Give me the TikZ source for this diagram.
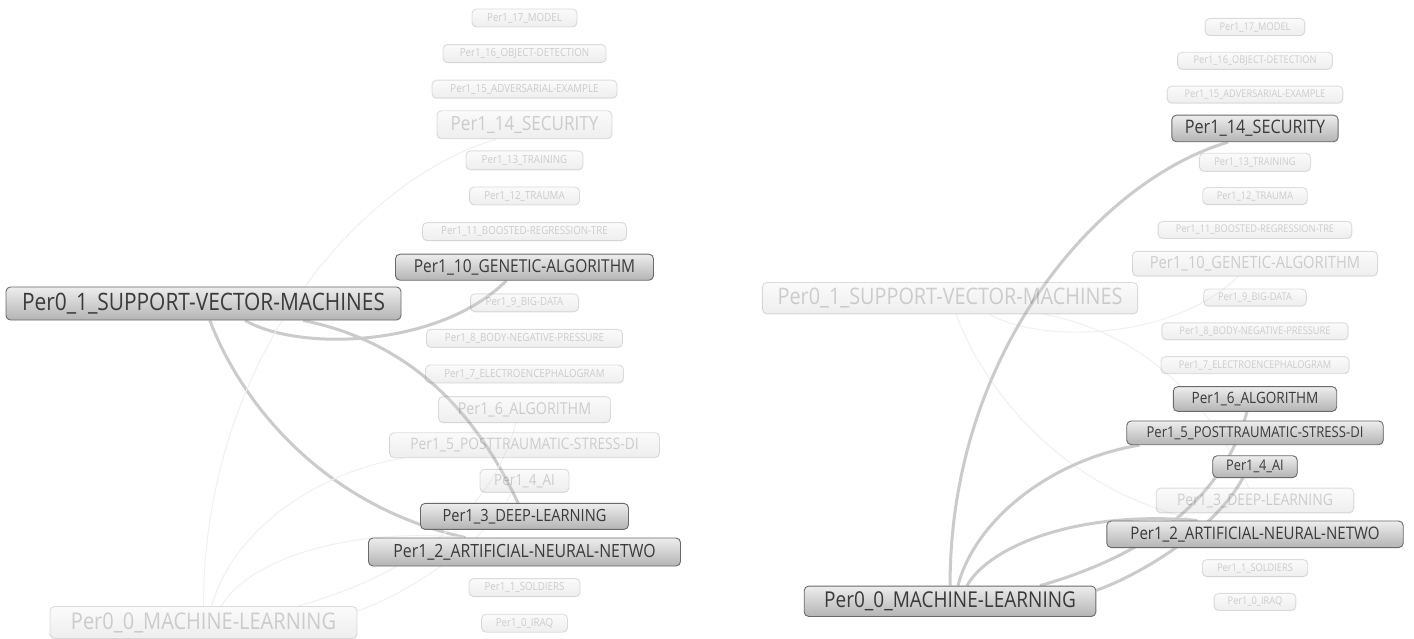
\documentclass[tikz,border=0pt]{standalone}
\usepackage{fontspec}
\newfontfamily\lblfont{Open Sans}[FakeStretch=0.87]
\usetikzlibrary{calc}
\pgfdeclarelayer{background}
\pgfdeclarelayer{canvas}
\pgfsetlayers{canvas,background,main}
\definecolor{boxline}{HTML}{6A6A6A}
\definecolor{boxtop}{HTML}{EDEDED}
\definecolor{boxbot}{HTML}{B4B4B4}
\definecolor{boxtext}{HTML}{3A3A3A}
\definecolor{edgestrong}{HTML}{CBCBCB}
\definecolor{edgeweak}{HTML}{F0F0F0}
\tikzset{
  box/.style={rounded corners=4.5pt, draw=boxline, top color=boxtop, bottom color=boxbot,
    text=boxtext, inner sep=0pt, line width=0.9pt},
  hilite/.style={box},
  faded/.style={box, opacity=0.22},
  strongedge/.style={draw=edgestrong, line width=3pt},
  weakedge/.style={draw=edgeweak, line width=1pt},
  fs/.style={font=\lblfont\fontsize{#1}{#1}\selectfont},
  small/.style={fs=11.2, minimum height=18pt},
}
\newcommand\graphnodes{%
  \node[n17, small, minimum width=105pt] (m17) at (524.5,18.0) {Per1\_17\_MODEL};
  \node[n16, small, minimum width=163pt] (m16) at (524.5,53.6) {Per1\_16\_OBJECT-DETECTION};
  \node[n15, small, minimum width=185pt] (m15) at (524.5,89.2) {Per1\_15\_ADVERSARIAL-EXAMPLE};
  \node[n14, fs=19.6, minimum width=175pt, minimum height=28pt] (m14) at (524.5,124.8) {Per1\_14\_SECURITY};
  \node[n13, small, minimum width=117pt, minimum height=19pt] (m13) at (524.5,160.4) {Per1\_13\_TRAINING};
  \node[n12, small, minimum width=110pt] (m12) at (524.5,196.0) {Per1\_12\_TRAUMA};
  \node[n11, small, minimum width=204pt] (m11) at (524.5,231.6) {Per1\_11\_BOOSTED-REGRESSION-TRE};
  \node[n10, fs=17.8, minimum width=258pt, minimum height=26pt] (m10) at (524.5,267.2) {Per1\_10\_GENETIC-ALGORITHM};
  \node[n9, small, minimum width=108pt] (m9) at (524.5,302.8) {Per1\_9\_BIG-DATA};
  \node[n8, small, minimum width=196pt] (m8) at (524.5,338.4) {Per1\_8\_BODY-NEGATIVE-PRESSURE};
  \node[n7, small, minimum width=198pt] (m7) at (524.5,374.0) {Per1\_7\_ELECTROENCEPHALOGRAM};
  \node[n6, fs=16.4, minimum width=172pt, minimum height=26pt] (m6) at (524.5,409.6) {Per1\_6\_ALGORITHM};
  \node[n5, fs=15.8, minimum width=270pt, minimum height=25pt] (m5) at (524.5,445.2) {Per1\_5\_POSTTRAUMATIC-STRESS-DI};
  \node[n4, fs=15.4, minimum width=89pt, minimum height=23pt] (m4) at (524.5,480.8) {Per1\_4\_AI};
  \node[n3, fs=16.8, minimum width=208pt, minimum height=26pt] (m3) at (524.5,516.4) {Per1\_3\_DEEP-LEARNING};
  \node[n2, fs=18.2, minimum width=312pt, minimum height=28pt] (m2) at (524.5,552.0) {Per1\_2\_ARTIFICIAL-NEURAL-NETWO};
  \node[n1, small, minimum width=111pt] (m1) at (524.5,587.6) {Per1\_1\_SOLDIERS};
  \node[n0, small, minimum width=86pt] (m0) at (524.5,623.2) {Per1\_0\_IRAQ};
  \node[q1, fs=24, minimum width=395pt, minimum height=33pt] (p1) at (203.5,303.5) {Per0\_1\_SUPPORT-VECTOR-MACHINES};
  \node[q0, fs=23, minimum width=307pt, minimum height=32pt] (p0) at (203.5,622.5) {Per0\_0\_MACHINE-LEARNING};
}
\newcommand\graphedges{%
  \begin{pgfonlayer}{background}
    % Per0_1 edges
    \draw[svmedge] ($(p1.south west)!0.516!(p1.south east)$) .. controls (240,400) and (320,505) .. ($(m2.north west)!0.311!(m2.north east)$);
    \draw[svmedge] ($(p1.south west)!0.605!(p1.south east)$) .. controls (300,352) and (440,347) .. ($(m10.south west)!0.43!(m10.south east)$);
    \draw[svmedge] ($(p1.south west)!0.752!(p1.south east)$) .. controls (400,340) and (470,400) .. ($(m3.north west)!0.469!(m3.north east)$);
    % Per0_0 edges
    \draw[mledge] ($(p0.north west)!0.50!(p0.north east)$) .. controls (203.4,358) and (361.3,179) .. ($(m14.south west)!0.338!(m14.south east)$);
    \draw[mledge] ($(p0.north west)!0.527!(p0.north east)$) .. controls (229.8,537) and (308.7,473.8) .. ($(m5.south west)!0.051!(m5.south east)$);
    \draw[mledge] ($(p0.north west)!0.558!(p0.north east)$) .. controls (245.6,563.3) and (340.3,526.4) .. ($(m2.north west)!0.306!(m2.north east)$);
    \draw[mledge] ($(p0.north west)!0.808!(p0.north east)$) .. controls (392.9,579) and (487.7,526.4) .. ($(m6.south west)!0.451!(m6.south east)$);
    \draw[mledge] ($(p0.north east)!0.15!(p0.south east)$) .. controls (403.4,594.8) and (482.4,547.5) .. ($(m4.south west)!0.358!(m4.south east)$);
  \end{pgfonlayer}
}
\begin{document}
\begin{tikzpicture}[x=1pt,y=-1pt]
  \useasboundingbox (0,0) rectangle (1414,639);
  \begin{pgfonlayer}{canvas}
    \fill[white] (0,0) rectangle (1414,639);
  \end{pgfonlayer}
  % left panel: Per0_1 selected
  \begin{scope}[name prefix=L-,
      n17/.style=faded, n16/.style=faded, n15/.style=faded, n14/.style=faded,
      n13/.style=faded, n12/.style=faded, n11/.style=faded, n10/.style=hilite,
      n9/.style=faded, n8/.style=faded, n7/.style=faded, n6/.style=faded,
      n5/.style=faded, n4/.style=faded, n3/.style=hilite, n2/.style=hilite,
      n1/.style=faded, n0/.style=faded, q1/.style=hilite, q0/.style=faded,
      svmedge/.style=strongedge, mledge/.style=weakedge]
    \graphnodes
    \graphedges
  \end{scope}
  % right panel: Per0_0 selected
  \begin{scope}[shift={(756.725,9.9)}, scale=0.95, transform shape, name prefix=R-,
      n17/.style=faded, n16/.style=faded, n15/.style=faded, n14/.style=hilite,
      n13/.style=faded, n12/.style=faded, n11/.style=faded, n10/.style=faded,
      n9/.style=faded, n8/.style=faded, n7/.style=faded, n6/.style=hilite,
      n5/.style=hilite, n4/.style=hilite, n3/.style=faded, n2/.style=hilite,
      n1/.style=faded, n0/.style=faded, q1/.style=faded, q0/.style=hilite,
      svmedge/.style=weakedge, mledge/.style=strongedge]
    \graphnodes
    \graphedges
  \end{scope}
\end{tikzpicture}
\end{document}
